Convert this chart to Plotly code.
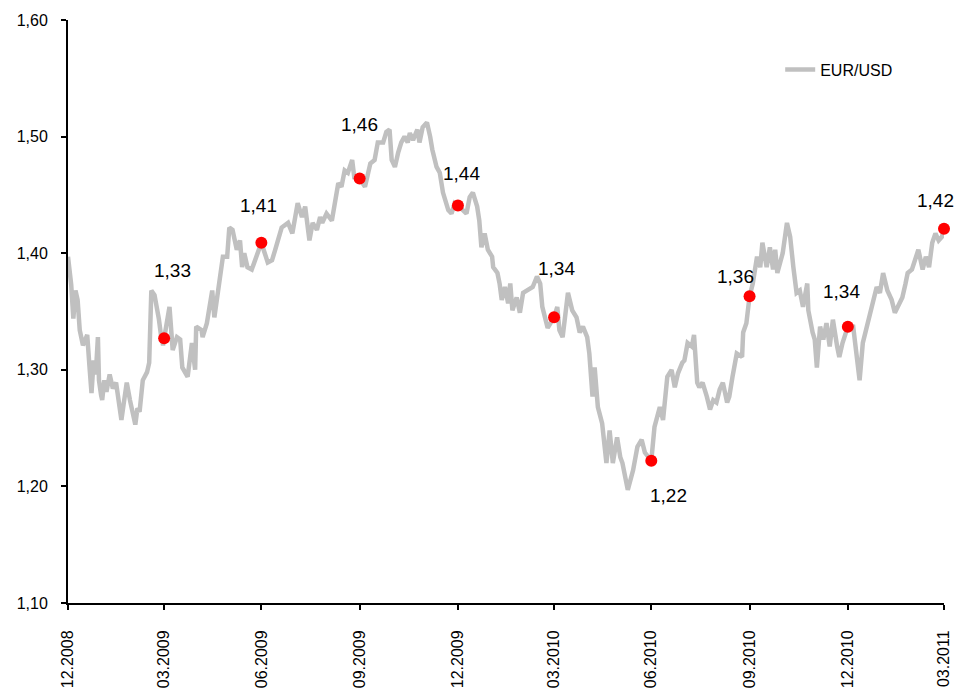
import pandas as pd
import plotly.graph_objects as go

start_date = "2008-12-31"

# EUR/USD series: days since 31.12.2008 and rate
days = [0, 3, 5, 7, 9, 11, 14, 16, 18, 20, 22, 24, 26, 28, 29, 31, 32, 34, 36, 39,
        42, 45, 47, 50, 52, 55, 58, 61, 63, 65, 67, 70, 74, 76, 78, 81, 83, 85, 87, 89,
        90, 95, 98, 102, 105, 107, 112, 116, 119, 120, 125, 126, 130, 133, 135, 137, 139, 142, 145, 149,
        151, 154, 158, 161, 163, 165, 168, 172, 177, 181, 187, 191, 194, 200, 206, 210, 215, 219, 222, 226,
        229, 233, 236, 238, 242, 247, 253, 256, 259, 262, 266, 268, 273, 278, 283, 287, 290, 295, 298, 301,
        303, 306, 309, 312, 315, 318, 320, 323, 327, 329, 332, 336, 339, 341, 345, 348, 351, 356, 359, 362,
        365, 373, 376, 379, 383, 385, 387, 390, 393, 397, 398, 402, 404, 406, 409, 412, 414, 416, 420, 423,
        426, 430, 435, 439, 442, 444, 449, 455, 458, 460, 463, 468, 472, 476, 479, 482, 486, 488, 491, 493,
        496, 500, 503, 504, 507, 510, 514, 517, 519, 524, 529, 533, 537, 540, 546, 549, 554, 557, 561, 565,
        568, 571, 575, 577, 580, 584, 586, 589, 591, 594, 598, 601, 604, 607, 610, 613, 617, 619, 622, 626,
        631, 632, 635, 638, 641, 645, 648, 650, 654, 657, 660, 662, 664, 669, 673, 676, 679, 682, 685, 688,
        692, 693, 697, 699, 701, 704, 707, 710, 713, 716, 720, 722, 725, 730, 735, 738, 741, 744, 748, 751,
        753, 757, 760, 763, 767, 771, 774, 777, 781, 784, 786, 790, 793, 796, 800, 803, 806, 809, 812, 815,
        818, 820]
eurusd = [1.397, 1.373, 1.344, 1.368, 1.360, 1.334, 1.321, 1.326, 1.330, 1.304, 1.280, 1.308, 1.296, 1.328, 1.291, 1.278, 1.274, 1.291, 1.281, 1.296,
          1.284, 1.289, 1.274, 1.257, 1.270, 1.289, 1.274, 1.261, 1.253, 1.267, 1.264, 1.291, 1.298, 1.306, 1.368, 1.364, 1.356, 1.344, 1.330, 1.321,
          1.327, 1.354, 1.317, 1.328, 1.326, 1.302, 1.294, 1.323, 1.300, 1.337, 1.334, 1.328, 1.340, 1.357, 1.368, 1.345, 1.357, 1.380, 1.397, 1.397,
          1.422, 1.420, 1.403, 1.411, 1.388, 1.400, 1.388, 1.386, 1.400, 1.409, 1.392, 1.394, 1.403, 1.422, 1.426, 1.417, 1.443, 1.431, 1.440, 1.411,
          1.426, 1.420, 1.431, 1.426, 1.434, 1.428, 1.460, 1.457, 1.471, 1.469, 1.480, 1.465, 1.464, 1.457, 1.477, 1.480, 1.495, 1.495, 1.504, 1.506,
          1.480, 1.474, 1.486, 1.495, 1.500, 1.495, 1.503, 1.497, 1.506, 1.495, 1.508, 1.512, 1.500, 1.489, 1.474, 1.469, 1.452, 1.437, 1.434, 1.443,
          1.441, 1.434, 1.448, 1.452, 1.440, 1.428, 1.405, 1.417, 1.403, 1.397, 1.388, 1.383, 1.374, 1.360, 1.371, 1.357, 1.374, 1.351, 1.362, 1.349,
          1.366, 1.368, 1.371, 1.380, 1.374, 1.354, 1.336, 1.345, 1.354, 1.334, 1.328, 1.366, 1.351, 1.345, 1.332, 1.337, 1.328, 1.314, 1.277, 1.302,
          1.268, 1.254, 1.231, 1.220, 1.248, 1.220, 1.242, 1.225, 1.220, 1.197, 1.214, 1.234, 1.240, 1.229, 1.222, 1.251, 1.268, 1.257, 1.294, 1.300,
          1.285, 1.297, 1.306, 1.308, 1.323, 1.320, 1.330, 1.289, 1.285, 1.289, 1.277, 1.266, 1.274, 1.272, 1.283, 1.289, 1.272, 1.277, 1.294, 1.314,
          1.311, 1.332, 1.340, 1.363, 1.374, 1.397, 1.388, 1.409, 1.388, 1.405, 1.386, 1.403, 1.383, 1.400, 1.426, 1.414, 1.388, 1.366, 1.368, 1.354,
          1.374, 1.351, 1.332, 1.326, 1.302, 1.337, 1.326, 1.340, 1.320, 1.343, 1.320, 1.311, 1.323, 1.337, 1.337, 1.317, 1.291, 1.323, 1.337, 1.351,
          1.357, 1.371, 1.366, 1.383, 1.368, 1.360, 1.349, 1.354, 1.362, 1.374, 1.383, 1.386, 1.394, 1.403, 1.386, 1.397, 1.388, 1.409, 1.417, 1.411,
          1.414, 1.421]

# quarter-end highlighted values
q_days = [90, 181, 273, 365, 455, 546, 638, 730, 820]
q_values = [1.327, 1.409, 1.464, 1.441, 1.345, 1.222, 1.363, 1.337, 1.421]
q_labels = ["1,33", "1,41", "1,46", "1,44", "1,34", "1,22", "1,36", "1,34", "1,42"]

# x tick labels (quarter ends)
tick_days = [0, 90, 181, 273, 365, 455, 546, 638, 730, 820]
tick_labels = ["12.2008", "03.2009", "06.2009", "09.2009", "12.2009",
               "03.2010", "06.2010", "09.2010", "12.2010", "03.2011"]

y_ticks = [1.10, 1.20, 1.30, 1.40, 1.50, 1.60]

base = pd.Timestamp(start_date)
to_dates = lambda d: [base + pd.Timedelta(days=int(v)) for v in d]
x_line = to_dates(days)
x_q = to_dates(q_days)
x_ticks = to_dates(tick_days)

# label offsets (pixels) for the annotations
label_shift = [(8, 68), (-3, 37), (0, 54), (4, 32), (2, 49), (17, -35), (-14, 20), (-6, 35), (-9, 28)]

FONT = "Liberation Sans, Arial, sans-serif"

fig = go.Figure()
fig.add_trace(go.Scatter(
    x=x_line, y=eurusd, mode="lines", name="EUR/USD",
    line=dict(color="#c0c0c0", width=4.5), cliponaxis=False,
))
fig.add_trace(go.Scatter(
    x=x_q, y=q_values, mode="markers", showlegend=False,
    marker=dict(color="#ff0000", size=12), cliponaxis=False,
))

for xd, yv, txt, (dx, dy) in zip(x_q, q_values, q_labels, label_shift):
    fig.add_annotation(x=xd, y=yv, text=txt, showarrow=False,
                       xshift=dx, yshift=dy,
                       font=dict(family=FONT, size=19, color="black"))

fig.update_layout(
    width=955, height=690,
    margin=dict(l=68, r=11, t=20, b=87, autoexpand=False),
    plot_bgcolor="white", paper_bgcolor="white",
    separators=", ",
    font=dict(family=FONT, size=16, color="black"),
    legend=dict(x=0.813, y=0.915, xanchor="left", yanchor="middle",
                bgcolor="rgba(0,0,0,0)", font=dict(family=FONT, size=16)),
    showlegend=True,
)
fig.update_xaxes(
    type="date",
    range=[x_ticks[0], x_ticks[-1]],
    tickmode="array", tickvals=x_ticks, ticktext=tick_labels,
    tickangle=-90, ticks="outside", ticklen=5, tickcolor="black", tickwidth=1.5,
    ticklabelstandoff=14,
    showline=True, linecolor="black", linewidth=2,
    showgrid=False, zeroline=False, automargin=False,
    tickfont=dict(family=FONT, size=16),
)
fig.update_yaxes(
    range=[1.10, 1.60],
    tickmode="array", tickvals=y_ticks, tickformat=".2f",
    ticks="outside", ticklen=5, tickcolor="black", tickwidth=1.5,
    ticklabelstandoff=10,
    showline=True, linecolor="black", linewidth=2,
    showgrid=False, zeroline=False, automargin=False,
    tickfont=dict(family=FONT, size=16),
)

fig.write_html("out.html")
